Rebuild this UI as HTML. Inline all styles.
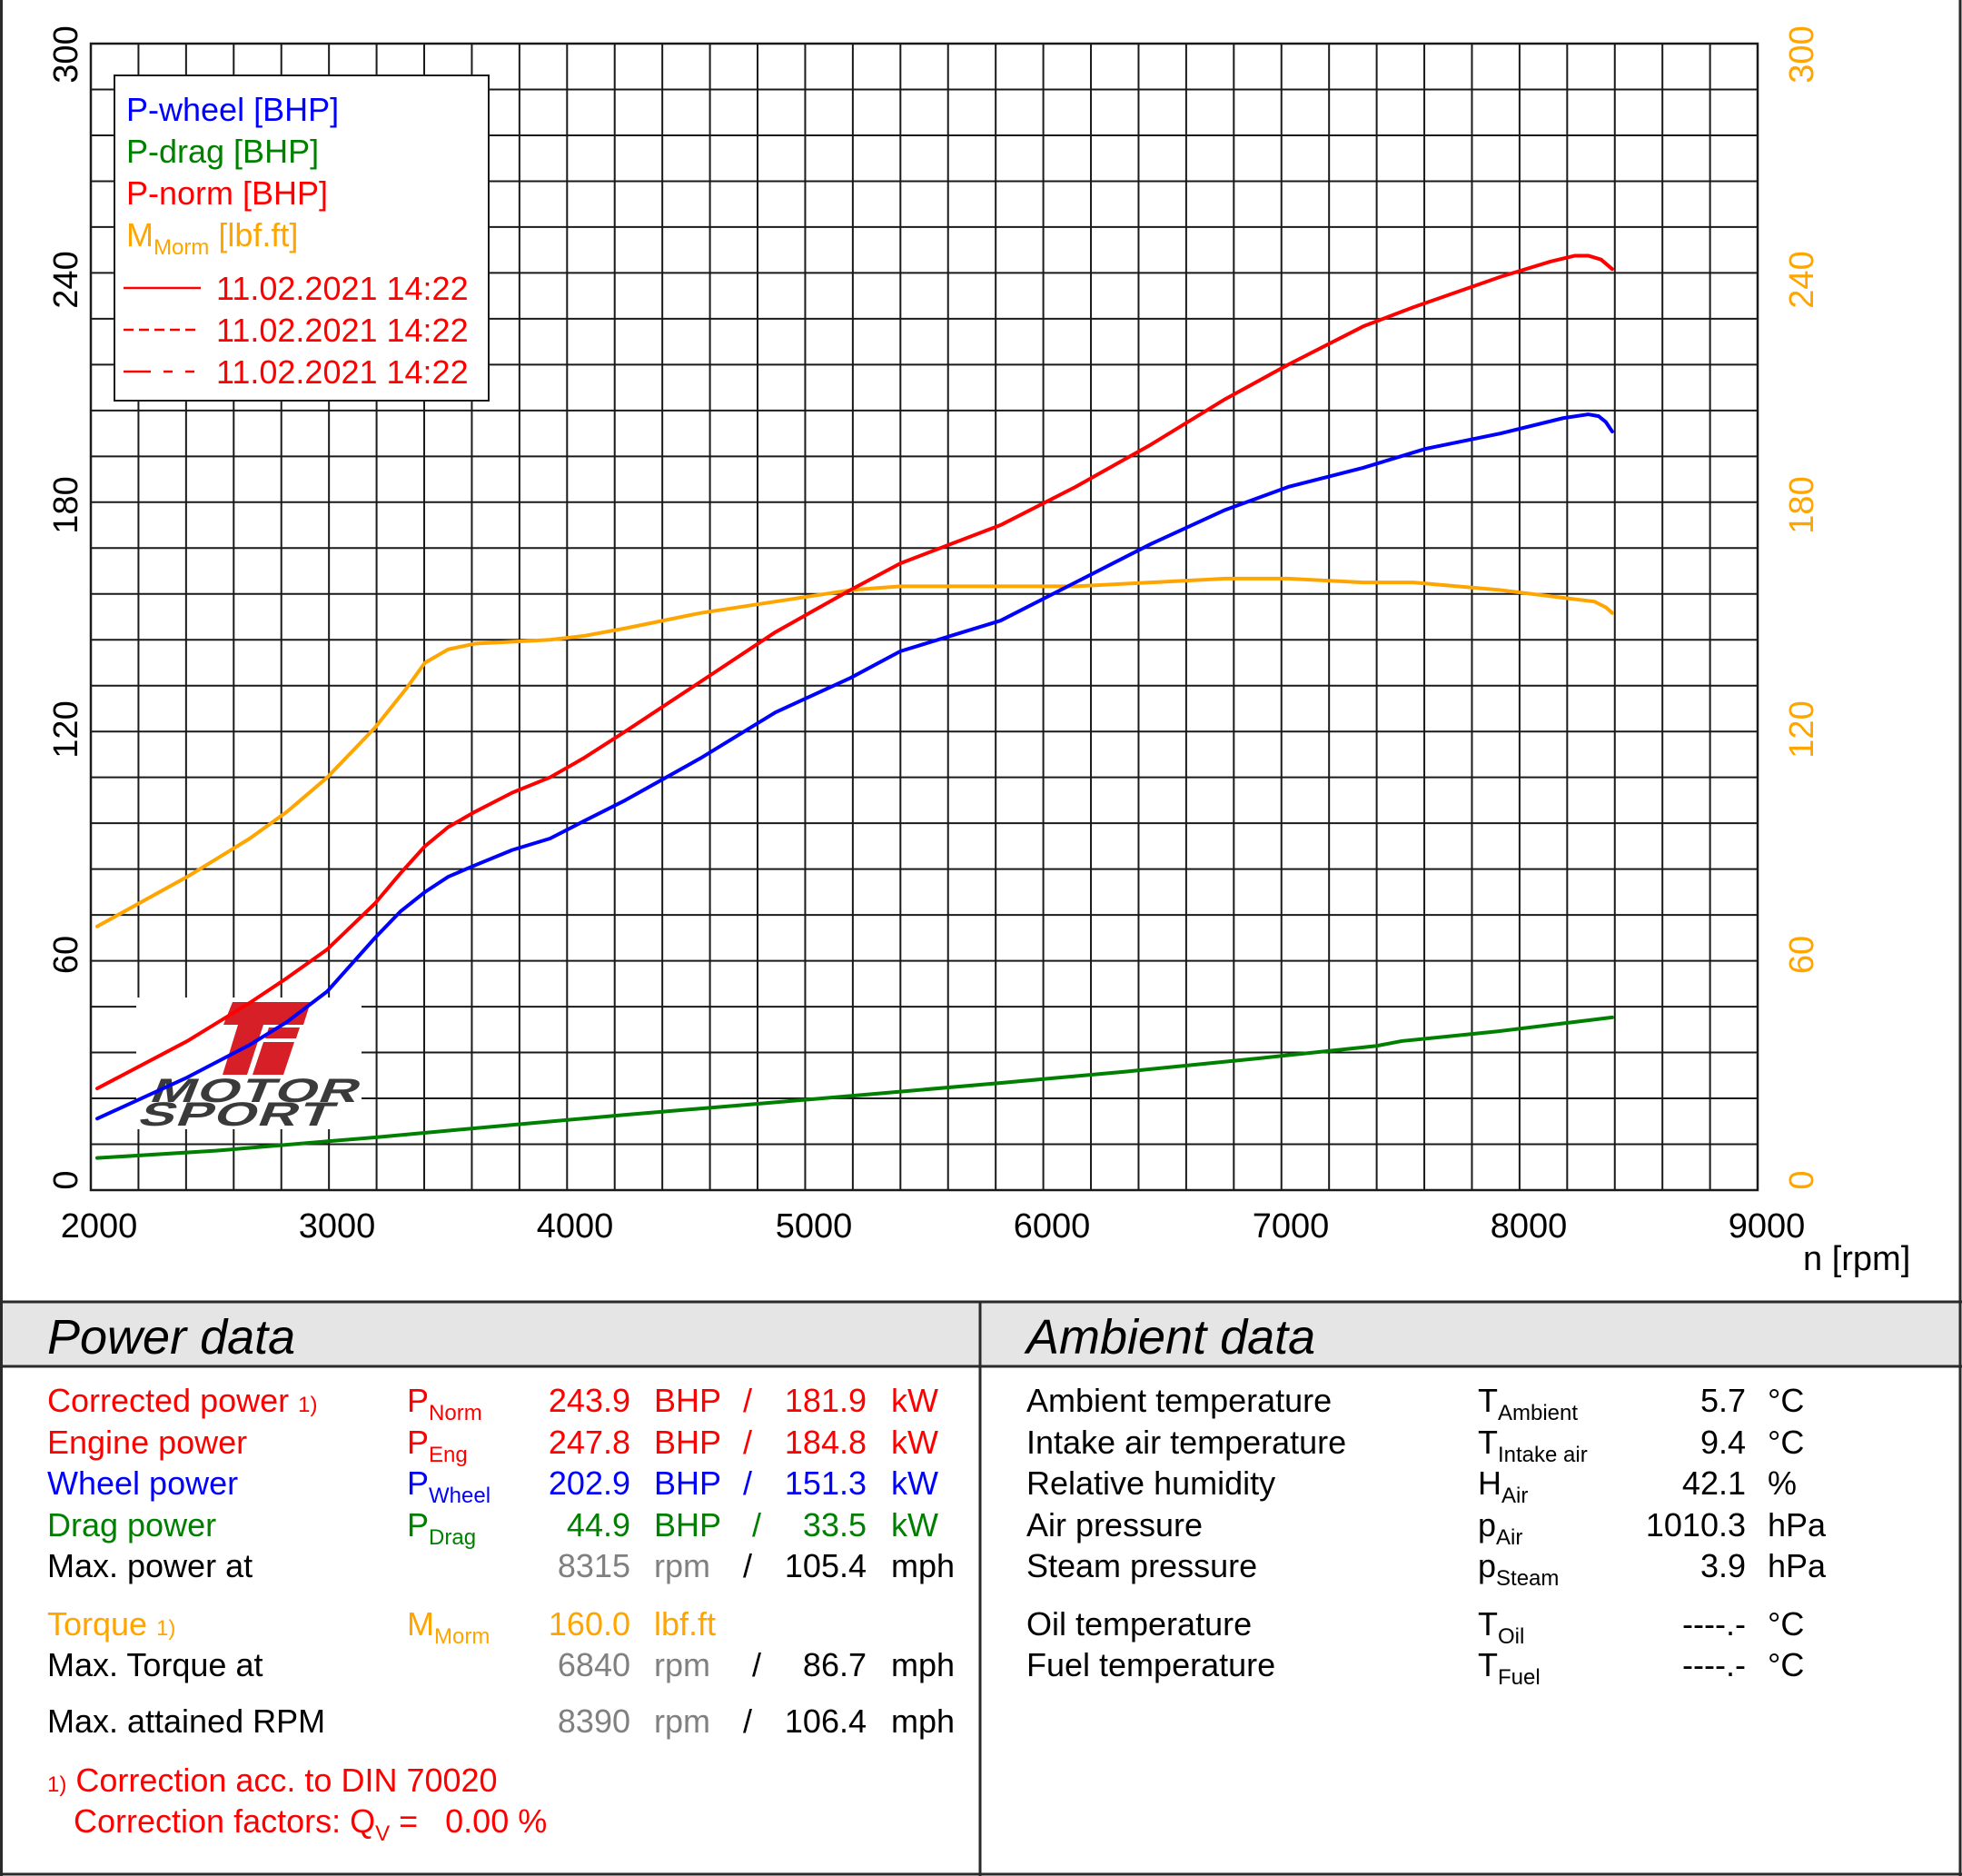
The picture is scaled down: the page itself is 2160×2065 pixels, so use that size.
<!DOCTYPE html>
<html><head><meta charset="utf-8"><style>
html,body{margin:0;padding:0;background:#fff}
svg{display:block}
text{font-family:"Liberation Sans",Arial,sans-serif}
</style></head><body>
<svg width="2160" height="2065" viewBox="0 0 2160 2065" xmlns="http://www.w3.org/2000/svg">
<rect width="2160" height="2065" fill="#fff"/>
<!-- grid -->
<g stroke="#1a1a1a" stroke-width="2" fill="none">
<path d="M100,48 v1262 m52.43,-1262 v1262 m52.43,-1262 v1262 m52.43,-1262 v1262 m52.43,-1262 v1262 m52.43,-1262 v1262 m52.43,-1262 v1262 m52.43,-1262 v1262 m52.43,-1262 v1262 m52.43,-1262 v1262 m52.43,-1262 v1262 m52.43,-1262 v1262 m52.43,-1262 v1262 m52.43,-1262 v1262 m52.43,-1262 v1262 m52.43,-1262 v1262 m52.43,-1262 v1262 m52.43,-1262 v1262 m52.43,-1262 v1262 m52.43,-1262 v1262 m52.43,-1262 v1262 m52.43,-1262 v1262 m52.43,-1262 v1262 m52.43,-1262 v1262 m52.43,-1262 v1262 m52.43,-1262 v1262 m52.43,-1262 v1262 m52.43,-1262 v1262 m52.43,-1262 v1262 m52.43,-1262 v1262 m52.43,-1262 v1262 m52.43,-1262 v1262 m52.43,-1262 v1262 m52.43,-1262 v1262 m52.43,-1262 v1262"/>
<path d="M100,48 h1835 m-1835,50.48 h1835 m-1835,50.48 h1835 m-1835,50.48 h1835 m-1835,50.48 h1835 m-1835,50.48 h1835 m-1835,50.48 h1835 m-1835,50.48 h1835 m-1835,50.48 h1835 m-1835,50.48 h1835 m-1835,50.48 h1835 m-1835,50.48 h1835 m-1835,50.48 h1835 m-1835,50.48 h1835 m-1835,50.48 h1835 m-1835,50.48 h1835 m-1835,50.48 h1835 m-1835,50.48 h1835 m-1835,50.48 h1835 m-1835,50.48 h1835 m-1835,50.48 h1835 m-1835,50.48 h1835 m-1835,50.48 h1835 m-1835,50.48 h1835 m-1835,50.48 h1835"/>
<rect x="100" y="48" width="1835" height="1262" stroke-width="2.5"/>
</g>
<!-- logo -->
<rect x="150" y="1098" width="248" height="145" fill="#fff"/>
<g>
<polygon points="256,1103 342,1103 334,1128 290,1128 272,1183 245,1183 262,1128 246,1128" fill="#d71f27"/>
<polygon points="296,1131 330,1131 326,1143 292,1143" fill="#d71f27"/>
<polygon points="290,1147 324,1147 312,1183 278,1183" fill="#d71f27"/>
<text x="0" y="0" font-size="37" font-weight="bold" fill="#3a3a3a" transform="translate(163,1213) skewX(-22) scale(1.62,1)" letter-spacing="1">MOTOR</text>
<text x="0" y="0" font-size="37" font-weight="bold" fill="#3a3a3a" transform="translate(150,1239) skewX(-22) scale(1.62,1)" letter-spacing="1">SPORT</text>
</g>
<!-- curves -->
<g transform="translate(107,1310) scale(0.261143,-4.20667) translate(-2000,0)" fill="none" stroke-width="4" stroke-linejoin="round" stroke-linecap="round">
<polyline vector-effect="non-scaling-stroke" stroke="#008000" points="2000,8.4 2500,10.3 3171,13.8 3700,16.8 4226,19.7 4750,22.4 5280,25.2 5800,28.0 6335,31 6900,34.5 7390,37.7 7500,39 7900,41.5 8387,45.2"/>
<polyline vector-effect="non-scaling-stroke" stroke="#ffa500" points="2000,69 2380,82 2643,92 2800,99 2970,108 3171,121 3300,131 3382,138 3480,141.5 3593,143 3909,144 4050,145 4226,147 4543,151 4859,154 5175,157 5386,158 5808,158 6124,158 6440,159 6756,160 6900,160 7021,160 7337,159 7548,159 7917,157 8180,155 8312,154 8360,152.5 8387,151"/>
<polyline vector-effect="non-scaling-stroke" stroke="#0000ff" points="2000,18.7 2380,29.5 2643,38 2800,44 2970,52 3171,66 3280,73 3382,78 3480,82 3593,85 3750,89 3909,92 4050,96.5 4226,102 4543,113 4859,125 5175,134 5386,141 5808,149 6124,159 6440,169 6756,178 7021,184 7337,189 7601,194 7917,198 8180,202 8286,203 8330,202.5 8360,201 8387,198.5"/>
<polyline vector-effect="non-scaling-stroke" stroke="#ff0000" points="2000,26.6 2380,39 2643,49 2800,55.5 2970,63 3171,75 3280,83 3382,90 3480,95 3593,99 3750,104 3909,108 4050,113 4226,120 4543,133 4859,146 5175,157 5386,164 5808,174 6124,184 6440,195 6756,207 7021,216 7337,226 7548,231 7917,239 8128,243 8230,244.5 8286,244.5 8340,243.5 8387,241"/>
</g>
<!-- legend -->
<rect x="126" y="83" width="412" height="358" fill="#fff" stroke="#1a1a1a" stroke-width="2"/>
<g font-size="36">
<text x="139" y="133" fill="#0000ff">P-wheel [BHP]</text>
<text x="139" y="179" fill="#008000">P-drag [BHP]</text>
<text x="139" y="225" fill="#ff0000">P-norm [BHP]</text>
<text x="139" y="271" fill="#ffa500">M<tspan font-size="24" dy="9">Morm</tspan><tspan dy="-9"> [lbf.ft]</tspan></text>
<text x="238" y="330" fill="#ff0000">11.02.2021 14:22</text>
<text x="238" y="376" fill="#ff0000">11.02.2021 14:22</text>
<text x="238" y="422" fill="#ff0000">11.02.2021 14:22</text>
</g>
<g stroke="#ff0000" stroke-width="2.5">
<line x1="136" y1="317" x2="221" y2="317"/>
<line x1="136" y1="363" x2="221" y2="363" stroke-dasharray="11,6"/>
<line x1="136" y1="409" x2="221" y2="409" stroke-dasharray="30,14,10,14,10"/>
</g>
<!-- axis labels -->
<g font-size="38" text-anchor="middle">
<text x="109" y="1362">2000</text>
<text x="371" y="1362">3000</text>
<text x="633" y="1362">4000</text>
<text x="896" y="1362">5000</text>
<text x="1158" y="1362">6000</text>
<text x="1421" y="1362">7000</text>
<text x="1683" y="1362">8000</text>
<text x="1945" y="1362">9000</text>
</g>
<text x="1985" y="1398" font-size="38">n [rpm]</text>
<g font-size="38" text-anchor="middle">
<text transform="translate(85,1299) rotate(-90)">0</text>
<text transform="translate(85,1051) rotate(-90)">60</text>
<text transform="translate(85,803) rotate(-90)">120</text>
<text transform="translate(85,556) rotate(-90)">180</text>
<text transform="translate(85,308) rotate(-90)">240</text>
<text transform="translate(85,60) rotate(-90)">300</text>
</g>
<g font-size="38" text-anchor="middle" fill="#ffa500">
<text transform="translate(1996,1299) rotate(-90)">0</text>
<text transform="translate(1996,1051) rotate(-90)">60</text>
<text transform="translate(1996,803) rotate(-90)">120</text>
<text transform="translate(1996,556) rotate(-90)">180</text>
<text transform="translate(1996,308) rotate(-90)">240</text>
<text transform="translate(1996,60) rotate(-90)">300</text>
</g>
<!-- bottom panels -->
<rect x="1" y="1433" width="2157" height="71" fill="#e5e5e5"/>
<g stroke="#2a2a2a" stroke-width="3" fill="none">
<line x1="0" y1="1433" x2="2160" y2="1433"/>
<line x1="0" y1="1504" x2="2160" y2="1504"/>
<line x1="1079" y1="1433" x2="1079" y2="2065"/>
<line x1="1.5" y1="0" x2="1.5" y2="2065"/>
<line x1="2158" y1="0" x2="2158" y2="2065"/>
<line x1="0" y1="2063" x2="2160" y2="2063"/>
</g>
<text x="52" y="1490" font-size="54" font-style="italic">Power data</text>
<text x="1130" y="1490" font-size="54" font-style="italic">Ambient data</text>
<g font-size="36">
<text x="52" y="1554" fill="#ff0000">Corrected power <tspan font-size="24">1)</tspan></text>
<text x="448" y="1554" fill="#ff0000">P<tspan font-size="24" dy="9">Norm</tspan></text>
<text x="694" y="1554" fill="#ff0000" text-anchor="end">243.9</text>
<text x="720" y="1554" fill="#ff0000">BHP</text>
<text x="823" y="1554" fill="#ff0000" text-anchor="middle">/</text>
<text x="954" y="1554" fill="#ff0000" text-anchor="end">181.9</text>
<text x="981" y="1554" fill="#ff0000">kW</text>

<text x="52" y="1600" fill="#ff0000">Engine power</text>
<text x="448" y="1600" fill="#ff0000">P<tspan font-size="24" dy="9">Eng</tspan></text>
<text x="694" y="1600" fill="#ff0000" text-anchor="end">247.8</text>
<text x="720" y="1600" fill="#ff0000">BHP</text>
<text x="823" y="1600" fill="#ff0000" text-anchor="middle">/</text>
<text x="954" y="1600" fill="#ff0000" text-anchor="end">184.8</text>
<text x="981" y="1600" fill="#ff0000">kW</text>

<text x="52" y="1645" fill="#0000ff">Wheel power</text>
<text x="448" y="1645" fill="#0000ff">P<tspan font-size="24" dy="9">Wheel</tspan></text>
<text x="694" y="1645" fill="#0000ff" text-anchor="end">202.9</text>
<text x="720" y="1645" fill="#0000ff">BHP</text>
<text x="823" y="1645" fill="#0000ff" text-anchor="middle">/</text>
<text x="954" y="1645" fill="#0000ff" text-anchor="end">151.3</text>
<text x="981" y="1645" fill="#0000ff">kW</text>

<text x="52" y="1691" fill="#008000">Drag power</text>
<text x="448" y="1691" fill="#008000">P<tspan font-size="24" dy="9">Drag</tspan></text>
<text x="694" y="1691" fill="#008000" text-anchor="end">44.9</text>
<text x="720" y="1691" fill="#008000">BHP</text>
<text x="833" y="1691" fill="#008000" text-anchor="middle">/</text>
<text x="954" y="1691" fill="#008000" text-anchor="end">33.5</text>
<text x="981" y="1691" fill="#008000">kW</text>

<text x="52" y="1736">Max. power at</text>
<text x="694" y="1736" fill="#808080" text-anchor="end">8315</text>
<text x="720" y="1736" fill="#808080">rpm</text>
<text x="823" y="1736" text-anchor="middle">/</text>
<text x="954" y="1736" text-anchor="end">105.4</text>
<text x="981" y="1736">mph</text>

<text x="52" y="1800" fill="#ffa500">Torque <tspan font-size="24">1)</tspan></text>
<text x="448" y="1800" fill="#ffa500">M<tspan font-size="24" dy="9">Morm</tspan></text>
<text x="694" y="1800" fill="#ffa500" text-anchor="end">160.0</text>
<text x="720" y="1800" fill="#ffa500">lbf.ft</text>

<text x="52" y="1845">Max. Torque at</text>
<text x="694" y="1845" fill="#808080" text-anchor="end">6840</text>
<text x="720" y="1845" fill="#808080">rpm</text>
<text x="833" y="1845" text-anchor="middle">/</text>
<text x="954" y="1845" text-anchor="end">86.7</text>
<text x="981" y="1845">mph</text>

<text x="52" y="1907">Max. attained RPM</text>
<text x="694" y="1907" fill="#808080" text-anchor="end">8390</text>
<text x="720" y="1907" fill="#808080">rpm</text>
<text x="823" y="1907" text-anchor="middle">/</text>
<text x="954" y="1907" text-anchor="end">106.4</text>
<text x="981" y="1907">mph</text>

<text x="52" y="1972" fill="#ff0000"><tspan font-size="24">1)</tspan> Correction acc. to DIN 70020</text>
<text x="81" y="2017" fill="#ff0000" xml:space="preserve">Correction factors: Q<tspan font-size="24" dy="9">V</tspan><tspan dy="-9"> =   0.00 %</tspan></text>

<text x="1130" y="1554">Ambient temperature</text>
<text x="1627" y="1554">T<tspan font-size="24" dy="9">Ambient</tspan></text>
<text x="1922" y="1554" text-anchor="end">5.7</text>
<text x="1946" y="1554">°C</text>

<text x="1130" y="1600">Intake air temperature</text>
<text x="1627" y="1600">T<tspan font-size="24" dy="9">Intake air</tspan></text>
<text x="1922" y="1600" text-anchor="end">9.4</text>
<text x="1946" y="1600">°C</text>

<text x="1130" y="1645">Relative humidity</text>
<text x="1627" y="1645">H<tspan font-size="24" dy="9">Air</tspan></text>
<text x="1922" y="1645" text-anchor="end">42.1</text>
<text x="1946" y="1645">%</text>

<text x="1130" y="1691">Air pressure</text>
<text x="1627" y="1691">p<tspan font-size="24" dy="9">Air</tspan></text>
<text x="1922" y="1691" text-anchor="end">1010.3</text>
<text x="1946" y="1691">hPa</text>

<text x="1130" y="1736">Steam pressure</text>
<text x="1627" y="1736">p<tspan font-size="24" dy="9">Steam</tspan></text>
<text x="1922" y="1736" text-anchor="end">3.9</text>
<text x="1946" y="1736">hPa</text>

<text x="1130" y="1800">Oil temperature</text>
<text x="1627" y="1800">T<tspan font-size="24" dy="9">Oil</tspan></text>
<text x="1922" y="1800" text-anchor="end">----.-</text>
<text x="1946" y="1800">°C</text>

<text x="1130" y="1845">Fuel temperature</text>
<text x="1627" y="1845">T<tspan font-size="24" dy="9">Fuel</tspan></text>
<text x="1922" y="1845" text-anchor="end">----.-</text>
<text x="1946" y="1845">°C</text>
</g>
</svg>
</body></html>
